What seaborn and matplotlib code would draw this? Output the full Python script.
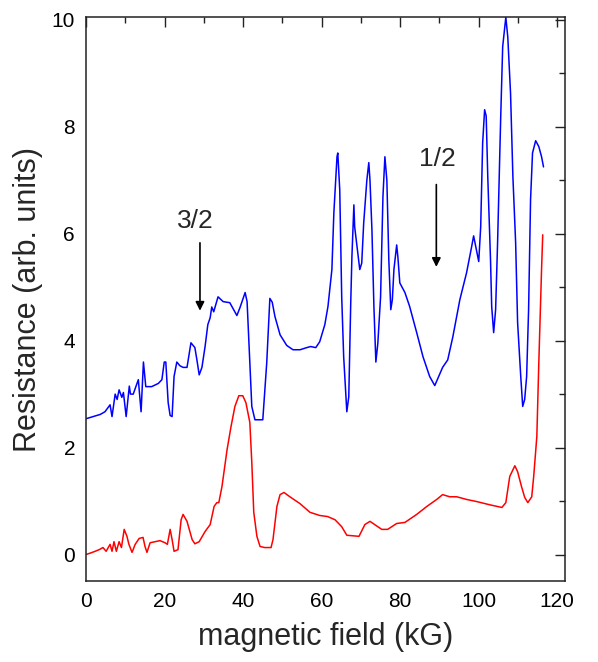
import numpy as np
import pandas as pd
import matplotlib
matplotlib.use("Agg")
import matplotlib.pyplot as plt
import seaborn as sns
from matplotlib.ticker import MultipleLocator

# upper trace (blue)
blue_x = [0, 1.8, 3.6, 4.8, 6.1, 6.6, 7.4, 7.9, 8.4, 9.1, 9.5, 10.2, 11.0, 11.3, 12.0,
          13.3, 14.0, 14.6, 15.2, 15.7, 16.7, 18.4, 19.3, 19.9, 20.3, 20.9, 21.4, 21.9,
          22.4, 23.1, 23.9, 24.7, 25.7, 26.7, 27.7, 28.2, 28.8, 29.5, 30.3, 31.0, 31.6,
          32.0, 32.5, 33.6, 34.9, 36.6, 38.4, 39.2, 40.5, 41.0, 41.7, 42.2, 43.0, 45.0,
          46.0, 46.8, 47.4, 48.1, 49.4, 51.1, 52.7, 54.5, 56.2, 57.2, 58.5, 59.5, 60.8,
          61.6, 62.6, 63.1, 63.9, 64.1, 64.6, 65.1, 65.6, 66.2, 66.4, 66.9, 67.4, 67.7,
          68.2, 68.4, 69.2, 69.7, 70.2, 70.7, 71.5, 72.0, 72.3, 72.8, 73.3, 73.8, 74.3,
          75.0, 75.6, 76.1, 76.6, 77.1, 77.6, 78.0, 78.4, 79.1, 79.4, 79.9, 81.2, 82.4,
          84.2, 85.8, 87.5, 88.8, 90.8, 92.1, 93.4, 95.2, 96.9, 98.2, 98.7, 99.4, 100.0,
          100.5, 101.0, 101.5, 101.9, 102.3, 103.0, 103.3, 103.8, 104.3, 104.8, 105.6,
          106.1, 106.9, 107.4, 108.1, 108.7, 109.4, 109.9, 110.7, 111.2, 111.7, 112.2,
          112.7, 113.2, 113.7, 114.5, 115.3, 116.0, 116.5]
blue_y = [2.54, 2.58, 2.62, 2.67, 2.80, 2.58, 3.00, 2.90, 3.08, 2.94, 3.03, 2.58, 3.15, 3.00, 3.00,
          3.27, 2.67, 3.60, 3.14, 3.14, 3.14, 3.20, 3.27, 3.60, 3.60, 2.84, 2.60, 2.58,
          3.33, 3.60, 3.53, 3.50, 3.50, 3.96, 3.87, 3.65, 3.36, 3.50, 3.89, 4.30, 4.43,
          4.63, 4.54, 4.82, 4.73, 4.71, 4.47, 4.62, 4.90, 4.73, 3.58, 2.77, 2.52, 2.52,
          3.58, 4.79, 4.72, 4.45, 4.11, 3.91, 3.83, 3.83, 3.87, 3.89, 3.87, 3.98, 4.30,
          4.64, 5.33, 6.39, 7.44, 7.51, 6.82, 4.82, 3.70, 2.90, 2.67, 2.95, 4.71, 5.57,
          6.54, 6.13, 5.64, 5.33, 5.45, 6.20, 7.00, 7.33, 7.00, 6.07, 4.64, 3.60, 3.95,
          4.82, 6.69, 7.44, 7.00, 5.51, 4.58, 4.77, 5.33, 5.79, 5.57, 5.08, 4.90, 4.64,
          4.15, 3.70, 3.33, 3.16, 3.50, 3.64, 4.07, 4.77, 5.27, 5.76, 5.96, 5.70, 5.48,
          6.13, 7.70, 8.32, 8.20, 7.07, 5.51, 4.64, 4.15, 4.58, 5.83, 8.19,
          9.50, 10.05, 9.68, 8.63, 7.07, 5.83, 4.34, 3.33, 2.77, 2.90, 3.33,
          4.58, 6.64, 7.51, 7.74, 7.63, 7.44, 7.25]

# lower trace (red)
red_x = [0, 1.2, 2.3, 3.3, 4.3, 5.1, 6.1, 6.6, 7.1, 7.7, 8.4, 9.0, 9.7, 10.4, 10.9, 11.7,
         12.5, 13.5, 14.5, 15.0, 15.5, 16.3, 17.6, 18.8, 20.1, 20.7, 21.4, 21.9, 22.4,
         23.4, 24.2, 24.7, 25.7, 27.0, 27.7, 28.8, 30.3, 31.6, 32.6, 33.3, 33.8, 34.6,
         35.9, 36.9, 37.9, 38.9, 39.9, 40.7, 41.7, 42.2, 42.7, 43.5, 44.3, 45.5, 47.1,
         47.6, 48.6, 49.4, 50.4, 51.9, 54.5, 57.0, 59.5, 61.5, 63.4, 65.1, 66.4, 69.5,
         71.0, 72.3, 73.5, 75.3, 76.8, 79.1, 81.2, 84.2, 86.8, 89.3, 90.8, 92.6, 94.4,
         96.9, 99.5, 102.8, 105.9, 106.9, 107.9, 109.2, 109.9, 110.9, 111.7, 112.5,
         113.5, 114.0, 114.8, 115.3, 116.0, 116.3]
red_y = [0.00, 0.03, 0.06, 0.09, 0.13, 0.06, 0.19, 0.06, 0.24, 0.06, 0.24, 0.13, 0.47, 0.34, 0.19, 0.04,
         0.19, 0.30, 0.32, 0.15, 0.04, 0.22, 0.24, 0.26, 0.22, 0.19, 0.47, 0.28, 0.06,
         0.09, 0.65, 0.75, 0.62, 0.28, 0.20, 0.24, 0.43, 0.56, 0.90, 0.97, 0.97, 1.27,
         1.96, 2.39, 2.77, 2.97, 2.97, 2.84, 2.47, 1.72, 0.79, 0.34, 0.15, 0.13, 0.13,
         0.28, 0.90, 1.12, 1.16, 1.08, 0.95, 0.79, 0.73, 0.71, 0.65, 0.52, 0.36, 0.34,
         0.56, 0.62, 0.56, 0.47, 0.47, 0.58, 0.60, 0.75, 0.90, 1.03, 1.12, 1.08, 1.08,
         1.03, 0.99, 0.93, 0.88, 0.97, 1.46, 1.66, 1.55, 1.27, 1.07, 0.97,
         1.08, 1.46, 2.21, 3.58, 5.33, 5.98]

labels = ["3/2", "1/2"]
label_x = [27.7, 89.5]
label_y = [6.11, 7.27]
arrow_x = [29.0, 89.2]
arrow_top = [5.83, 6.92]
arrow_tip = [4.56, 5.38]

sns.set_style("white")
plt.rcParams['font.family'] = ['Liberation Sans', 'DejaVu Sans']

blue = pd.DataFrame({'field': blue_x, 'R': blue_y})
red = pd.DataFrame({'field': red_x, 'R': red_y})

fig, ax = plt.subplots(figsize=(5.98, 6.62), dpi=100)
fig.subplots_adjust(left=0.144, right=0.945, bottom=0.122, top=0.974)

sns.lineplot(data=blue, x='field', y='R', color='#0000ff', lw=1.1, sort=False, ax=ax)
sns.lineplot(data=red, x='field', y='R', color='#ff0000', lw=1.1, sort=False, ax=ax)

for t, tx, ty, ax_, a0, a1 in zip(labels, label_x, label_y, arrow_x, arrow_top, arrow_tip):
    ax.text(tx, ty, t, fontsize=19, ha='center', va='baseline')
    ax.annotate('', xy=(ax_, a1), xytext=(ax_, a0),
                arrowprops=dict(arrowstyle='-|>', color='k', lw=1.2,
                                mutation_scale=13, shrinkA=0, shrinkB=0))

ax.set_xlim(0, 122)
ax.set_ylim(-0.5, 10.05)
ax.xaxis.set_major_locator(MultipleLocator(20))
ax.xaxis.set_minor_locator(MultipleLocator(10))
ax.yaxis.set_major_locator(MultipleLocator(2))
ax.yaxis.set_minor_locator(MultipleLocator(1))
ax.tick_params(which='both', direction='in', top=True, right=True, width=1.0,
               colors='#222222', labelcolor='black')
ax.tick_params(which='major', length=7, labelsize=15, pad=8)
ax.tick_params(which='minor', length=4.3)
for s in ax.spines.values():
    s.set_color('#222222')
    s.set_linewidth(1.1)

ax.set_xlabel('magnetic field (kG)', fontsize=22, labelpad=8)
ax.set_ylabel('Resistance (arb. units)', fontsize=22, labelpad=6)

fig.savefig('out.png', dpi=100)
